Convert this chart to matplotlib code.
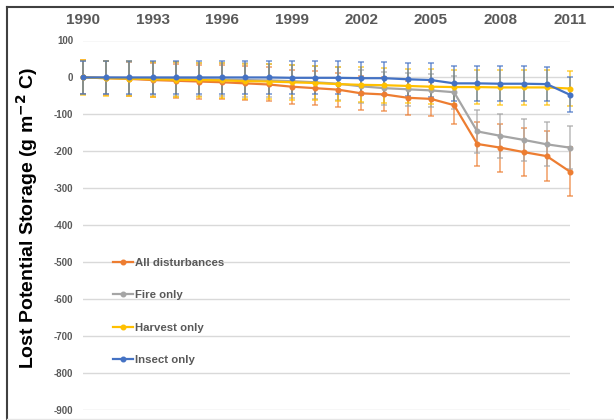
import numpy as np
import matplotlib
matplotlib.use('Agg')
import matplotlib.pyplot as plt
from matplotlib.lines import Line2D

plt.rcParams['font.family'] = ['Liberation Sans', 'DejaVu Sans']
plt.rcParams['axes.unicode_minus'] = False

years = list(range(1990, 2012))

all_dist = [0, -2, -4, -7, -9, -11, -13, -16, -19, -25, -29, -33, -43, -46, -55, -58, -75, -180, -190, -202, -213, -255]
fire = [0, -1, -2, -3, -4, -5, -6, -7, -8, -10, -13, -17, -24, -29, -32, -35, -40, -146, -158, -169, -181, -190]
harvest = [0, -2, -3, -5, -6, -7, -8, -10, -11, -13, -15, -18, -20, -21, -23, -25, -26, -26, -27, -27, -27, -30]
insect = [0, 0, 0, 0, 0, 0, 0, 0, 0, -1, -1, -1, -2, -2, -5, -7, -16, -16, -17, -17, -18, -47]

all_err = [46] * 16 + [50, 60, 65, 66, 67, 67]
fire_err = [45] * 17 + [58, 59, 57, 60, 58]
harvest_err = [47] * 22
insect_err = [45] * 16 + [47] * 6

labels = ['All disturbances', 'Fire only', 'Harvest only', 'Insect only']
colors = ['#ED7D31', '#A5A5A5', '#FFC000', '#4472C4']
series = [all_dist, fire, harvest, insect]
errors = [all_err, fire_err, harvest_err, insect_err]

fig = plt.figure(figsize=(6.14, 4.2), dpi=100)
ax = fig.add_axes([83 / 614, 1 - 410 / 420, 487 / 614, 369.5 / 420])

handles = []
for vals, err, col, lab in zip(series, errors, colors, labels):
    ax.errorbar(years, vals, yerr=err, fmt='none', ecolor=col, elinewidth=1.1,
                capsize=2, capthick=1.1, alpha=0.75, clip_on=False, zorder=2)
    ln, = ax.plot(years, vals, color=col, lw=1.6, marker='o', markersize=3.3,
                  label=lab, clip_on=False, zorder=3)
    handles.append(ln)

ax.set_xlim(1990, 2011)
ax.set_ylim(-900, 100)
ax.set_yticks(np.arange(-900, 101, 100))
ax.set_xticks(range(1990, 2012, 3))
ax.xaxis.tick_top()
ax.tick_params(axis='x', length=0, pad=9.5, labelsize=11, labelcolor='#595959')
ax.tick_params(axis='y', length=0, pad=7, labelsize=7, labelcolor='#595959')
for t in ax.get_xticklabels() + ax.get_yticklabels():
    t.set_fontweight('bold')
ax.grid(axis='y', color='#d9d9d9', lw=1)
ax.set_axisbelow(True)
for s in ax.spines.values():
    s.set_visible(False)

ax.set_ylabel('Lost Potential Storage (g m$^{\\mathbf{-2}}$ C)', fontsize=14,
              fontweight='bold', color='black')
ax.yaxis.set_label_coords(-0.088, 0.52)

ax.legend(handles=handles, loc='upper left', bbox_to_anchor=(0.062, 0.412),
          frameon=False, borderaxespad=0, borderpad=0, handlelength=1.75,
          handletextpad=0.2, labelspacing=1.97,
          prop={'weight': 'bold', 'size': 8.2}, labelcolor='#595959')

# outer chart border
fig.add_artist(Line2D([7 / 614, 7 / 614], [0, 1 - 7 / 420], transform=fig.transFigure,
                      color='#404040', lw=1.5))
fig.add_artist(Line2D([7 / 614, 1], [1 - 7 / 420, 1 - 7 / 420], transform=fig.transFigure,
                      color='#404040', lw=1.5))
fig.add_artist(Line2D([7 / 614, 1], [1.5 / 420, 1.5 / 420], transform=fig.transFigure,
                      color='#e6e6e6', lw=1))

fig.savefig('out.png', dpi=100)
